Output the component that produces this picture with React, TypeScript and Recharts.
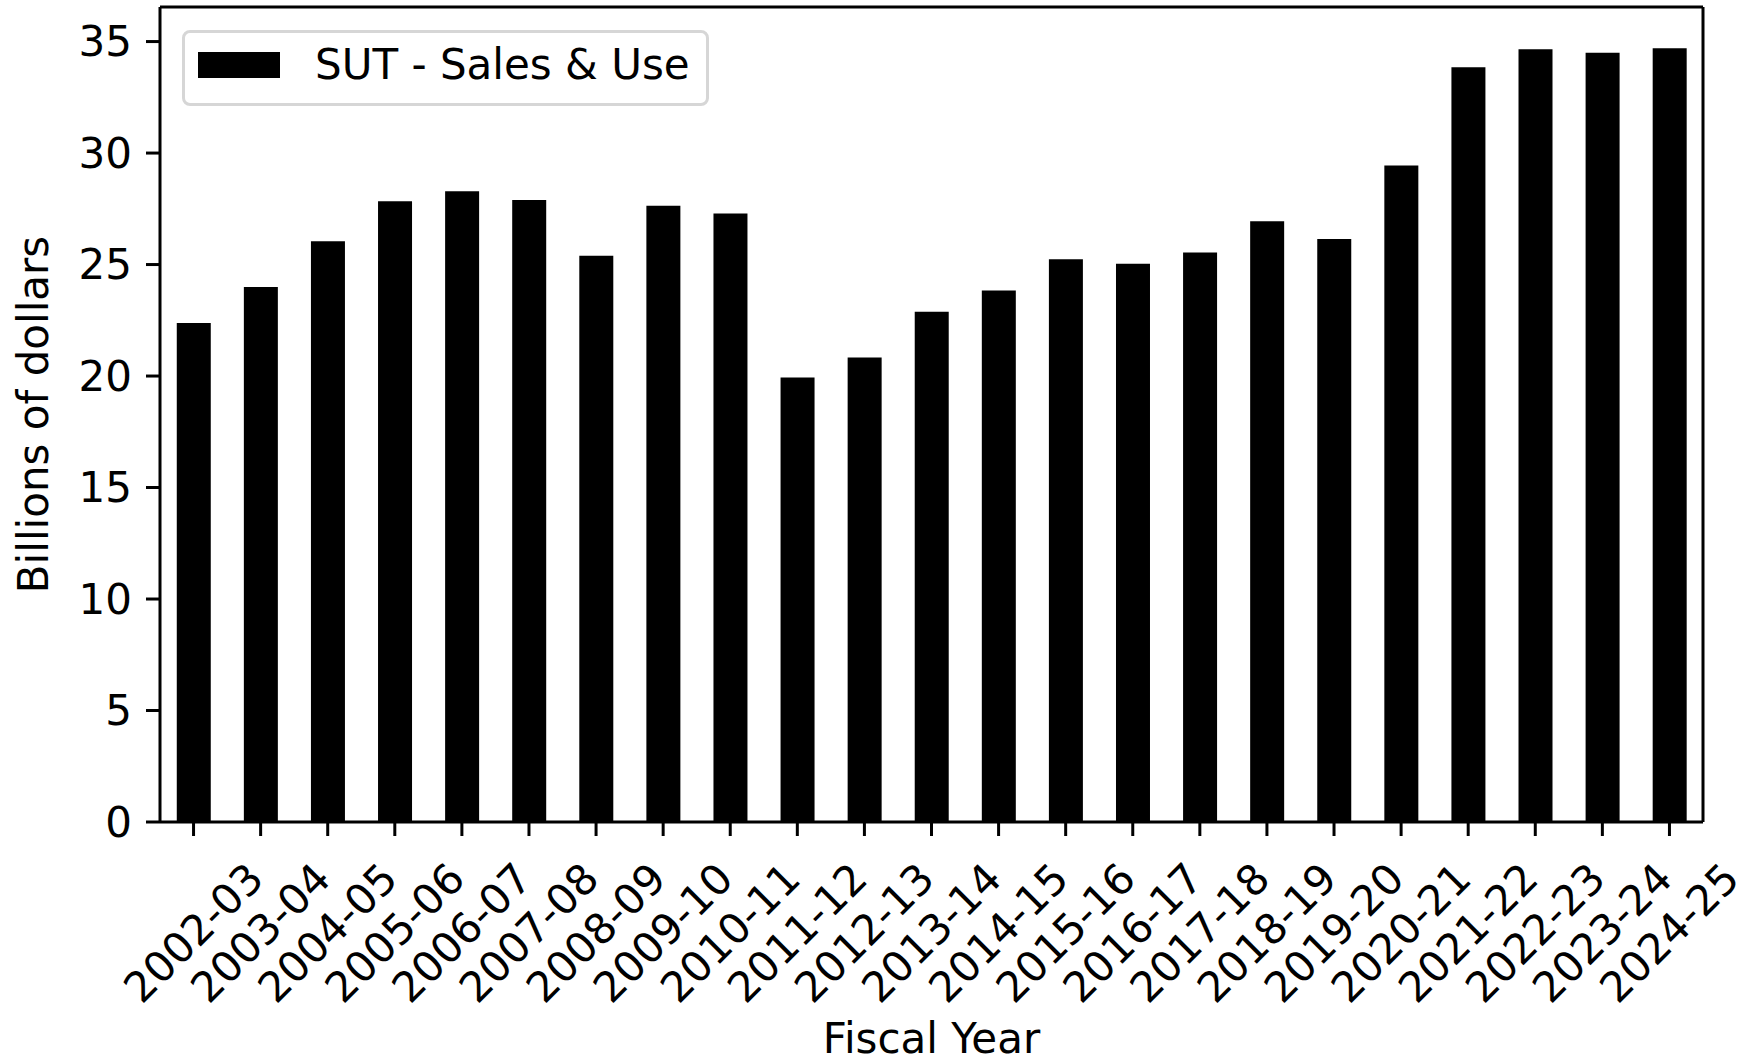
import { BarChart, Bar, XAxis, YAxis, Legend, CartesianGrid } from 'recharts';

const fiscalYears = [
  '2002-03', '2003-04', '2004-05', '2005-06', '2006-07', '2007-08', '2008-09',
  '2009-10', '2010-11', '2011-12', '2012-13', '2013-14', '2014-15', '2015-16',
  '2016-17', '2017-18', '2018-19', '2019-20', '2020-21', '2021-22', '2022-23',
  '2023-24', '2024-25',
];

// billions of dollars
const salesAndUse = [
  22.38, 23.99, 26.04, 27.84, 28.29, 27.89, 25.39, 27.64, 27.29, 19.93, 20.83,
  22.88, 23.84, 25.24, 25.04, 25.54, 26.94, 26.14, 29.44, 33.85, 34.65, 34.5, 34.7,
];

const yTicks = [0, 5, 10, 15, 20, 25, 30, 35];

const data = fiscalYears.map((fy, i) => ({ fy, sut: salesAndUse[i] }));

const FONT = "'DejaVu Sans', sans-serif";
const FS = 42;
const line = { stroke: '#000', strokeWidth: 3 };

function XTick({ x, y, payload }: any) {
  const cy = y + 95;
  return (
    <text
      x={x}
      y={cy}
      textAnchor="middle"
      dominantBaseline="central"
      transform={`rotate(-45, ${x}, ${cy})`}
      fontSize={FS}
      fontFamily={FONT}
      fill="#000"
    >
      {payload.value}
    </text>
  );
}

function LegendBox() {
  return (
    <div
      style={{
        width: 527,
        height: 76,
        boxSizing: 'border-box',
        border: '3px solid #d6d6d6',
        borderRadius: 8,
        background: '#fff',
        display: 'flex',
        alignItems: 'center',
        paddingBottom: 6,
        fontFamily: FONT,
        fontSize: FS,
        color: '#000',
      }}
    >
      <span style={{ display: 'inline-block', width: 82, height: 26, background: '#000', marginLeft: 13 }} />
      <span style={{ marginLeft: 35, lineHeight: 1 }}>SUT - Sales &amp; Use</span>
    </div>
  );
}

export default function App() {
  return (
    <div style={{ position: 'absolute', left: 0, top: 0, background: '#fff' }}>
      <BarChart
        width={1752}
        height={1063}
        data={data}
        margin={{ top: 7, right: 49, bottom: 0, left: 0 }}
        barCategoryGap="25%"
      >
        {/* top and right edges of the frame */}
        <CartesianGrid
          stroke="#000"
          strokeWidth={3}
          horizontalCoordinatesGenerator={({ offset }: any) => [offset.top]}
          verticalCoordinatesGenerator={({ offset }: any) => [offset.left + offset.width]}
        />
        <XAxis
          dataKey="fy"
          height={241}
          interval={0}
          tickSize={14}
          tickLine={line}
          axisLine={line}
          tick={<XTick />}
          label={{
            content: ({ viewBox }: any) => (
              <text
                x={viewBox.x + viewBox.width / 2}
                y={viewBox.y + 231}
                textAnchor="middle"
                fontSize={FS}
                fontFamily={FONT}
                fill="#000"
              >
                Fiscal Year
              </text>
            ),
          }}
        />
        <YAxis
          width={160}
          domain={[0, 36.55]}
          ticks={yTicks}
          interval={0}
          tickSize={14}
          tickMargin={14}
          tickLine={line}
          axisLine={line}
          tick={{ fontSize: FS, fontFamily: FONT, fill: '#000' }}
          label={{
            content: ({ viewBox }: any) => {
              const cx = 33;
              const cy = viewBox.y + viewBox.height / 2;
              return (
                <text
                  x={cx}
                  y={cy}
                  textAnchor="middle"
                  dominantBaseline="central"
                  transform={`rotate(-90, ${cx}, ${cy})`}
                  fontSize={FS}
                  fontFamily={FONT}
                  fill="#000"
                >
                  Billions of dollars
                </text>
              );
            },
          }}
        />
        <Legend
          layout="vertical"
          align="center"
          verticalAlign="middle"
          content={<LegendBox />}
          wrapperStyle={{ position: 'absolute', top: 30, left: 182, width: 'auto', height: 'auto' }}
        />
        <Bar dataKey="sut" name="SUT - Sales & Use" fill="#000" isAnimationActive={false} />
      </BarChart>
    </div>
  );
}
